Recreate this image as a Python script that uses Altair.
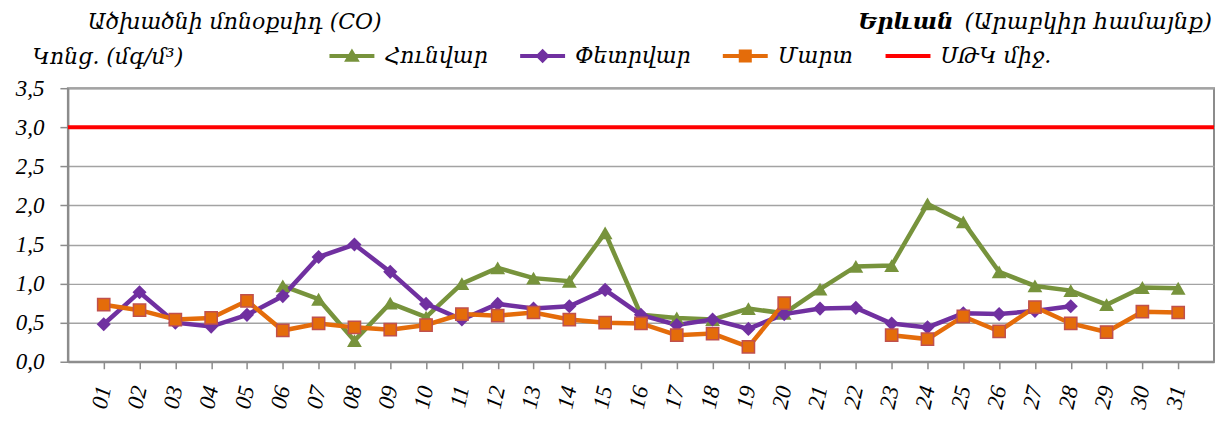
import altair as alt
import pandas as pd

days = [f"{i:02d}" for i in range(1, 32)]
jan = [None, None, None, None, None,
       0.97, 0.80, 0.27, 0.75, 0.57, 1.00, 1.20, 1.07, 1.03, 1.65, 0.60,
       0.56, 0.54, 0.68, 0.62, 0.93, 1.22, 1.23, 2.02, 1.79, 1.15, 0.97,
       0.91, 0.73, 0.95, 0.94]
feb = [0.48, 0.89, 0.50, 0.45, 0.60, 0.84, 1.34, 1.50, 1.15, 0.74, 0.54,
       0.74, 0.68, 0.71, 0.92, 0.60, 0.47, 0.54, 0.42, 0.61, 0.68, 0.69,
       0.49, 0.44, 0.62, 0.61, 0.65, 0.71, None, None, None]
mar = [0.73, 0.66, 0.54, 0.56, 0.78, 0.40, 0.49, 0.44, 0.41, 0.47, 0.61,
       0.59, 0.63, 0.54, 0.50, 0.49, 0.34, 0.36, 0.19, 0.75, None, None,
       0.34, 0.29, 0.58, 0.39, 0.70, 0.49, 0.38, 0.64, 0.63]
limit_value = 3.0
y_ticks = [0.0, 0.5, 1.0, 1.5, 2.0, 2.5, 3.0, 3.5]

series_names = ["Հունվար", "Փետրվար", "Մարտ", "ՍԹԿ միջ."]
colors = ["#77933C", "#7030A0", "#E46C0A", "#FF0000"]
shapes = ["triangle-up", "diamond", "square"]
sizes = [220, 200, 150]

title_text = "Ածխածնի մոնօքսիդ (CO)"
unit_text = "Կոնց. (մգ/մ³)"
city_text = "Երևան"
district_text = "(Արաբկիր համայնք)"

ARM_FONT = "DejaVu Serif"
NUM_FONT = "Liberation Serif"

rows = []
for name, vals in zip(series_names[:3], [jan, feb, mar]):
    seg = 0
    gap = True
    for d, v in zip(days, vals):
        if v is None:
            gap = True
            continue
        if gap:
            seg += 1
            gap = False
        rows.append({"day": d, "value": v, "series": name, "seg": f"{name}-{seg}"})
df = pd.DataFrame(rows)
limit_df = pd.DataFrame({"series": [series_names[3]], "value": [limit_value]})
text_df = pd.DataFrame({"t": [0]})

W, H = 1148, 274

color_scale = alt.Scale(domain=series_names, range=colors)
x_enc = alt.X("day:O", scale=alt.Scale(type="point", domain=days, padding=1),
              axis=alt.Axis(title=None, labelAngle=282, labelFont=NUM_FONT,
                            labelFontStyle="italic", labelFontSize=23,
                            labelColor="black", tickColor="#8c8c8c", tickSize=7,
                            tickWidth=1.5, domainColor="#8c8c8c", domainWidth=2,
                            labelPadding=17, grid=False))
y_enc = alt.Y("value:Q", scale=alt.Scale(domain=[0, 3.5], nice=False, zero=True),
              axis=alt.Axis(values=y_ticks, tickCount=8,
                            labelExpr="replace(format(datum.value, '.1f'), '.', ',')",
                            title=unit_text, titleAngle=0, titleX=-36, titleY=-32,
                            titleAlign="left", titleBaseline="middle",
                            titleFont=ARM_FONT, titleFontStyle="italic",
                            titleFontWeight="normal", titleFontSize=22,
                            titleColor="black", labelOverlap=False,
                            labelFont=NUM_FONT, labelFontStyle="italic",
                            labelFontSize=23, labelColor="black", labelPadding=16,
                            tickColor="#8c8c8c", tickSize=8, tickWidth=1.5,
                            domainColor="#8c8c8c", domainWidth=2,
                            gridColor="#a3a3a3", gridWidth=1.5,
                            minExtent=60, maxExtent=60))

base = alt.Chart(df)

bar = "M-1,-0.09H1V0.09H-1Z"
legend_paths = [
    bar + " M0,-0.33L0.35,0.26H-0.35Z",
    bar + " M0,-0.32L0.32,0L0,0.32L-0.32,0Z",
    bar + " M-0.29,-0.29H0.29V0.29H-0.29Z",
    bar,
]
leg = alt.Legend(title=None, orient="none", legendX=262, legendY=-55,
                 direction="horizontal", columns=4, columnPadding=32,
                 symbolSize=2025, symbolStrokeWidth=0, symbolOpacity=1,
                 labelFont=ARM_FONT, labelFontStyle="italic", labelFontSize=22,
                 labelColor="black", labelOffset=10)
legend_layer = base.mark_point(filled=True, opacity=0).encode(
    x=x_enc, y=y_enc,
    color=alt.Color("series:N", scale=color_scale, legend=leg),
    shape=alt.Shape("series:N", scale=alt.Scale(domain=series_names, range=legend_paths),
                    legend=leg),
)

lines = base.mark_line(strokeWidth=4.5).encode(
    x=x_enc, y=y_enc,
    color=alt.Color("series:N", scale=color_scale, legend=None),
    detail="seg:N",
)

rule = alt.Chart(limit_df).mark_rule(strokeWidth=4).encode(
    y=y_enc,
    color=alt.Color("series:N", scale=color_scale, legend=None),
)

point_layers = []
for name, col, shp, sz in zip(series_names[:3], colors[:3], shapes, sizes):
    if shp == "square":
        mk = base.mark_point(filled=True, shape=shp, size=sz, color=col,
                             stroke="#C0504D", strokeWidth=1.5, opacity=1)
    else:
        mk = base.mark_point(filled=True, shape=shp, size=sz, color=col, opacity=1)
    point_layers.append(
        mk.transform_filter(alt.datum.series == name).encode(x=x_enc, y=y_enc)
    )

def label(text, x, y, align, size, weight="normal"):
    return alt.Chart(text_df).mark_text(
        text=text, align=align, baseline="middle", font=ARM_FONT,
        fontStyle="italic", fontWeight=weight, fontSize=size, color="black"
    ).encode(x=alt.value(x), y=alt.value(y))

title_mark = label(title_text, 20, -66, "left", 22)
city = label(city_text, 887, -66, "right", 23, "bold")
district = label(district_text, W - 2, -66, "right", 23)

chart = alt.layer(legend_layer, lines, rule, *point_layers,
                  title_mark, city, district).properties(
    width=W, height=H,
    padding={"left": 0, "top": 3, "right": 0, "bottom": 0},
).configure_view(stroke="#8c8c8c", strokeWidth=2)

chart.save("out.html", embed_options={"renderer": "svg", "actions": False})
